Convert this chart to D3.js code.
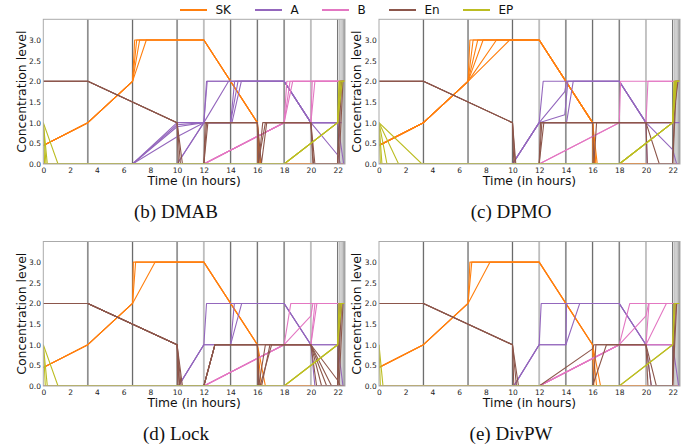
<!DOCTYPE html>
<html><head><meta charset="utf-8">
<script src="https://cdn.jsdelivr.net/npm/d3@7"></script>
<style>body{margin:0;background:#fff} svg{display:block}</style>
</head><body>
<svg id="chart" width="694" height="445"></svg>
<script>
// ---------------- DATA ----------------
const seriesNames = ["SK", "A", "B", "En", "EP"];
const panelTitles = ["(b) DMAB", "(c) DPMO", "(d) Lock", "(e) DivPW"];
const xTicks = [0, 2, 4, 6, 8, 10, 12, 14, 16, 18, 20, 22];
const yTicks = [0, 0.5, 1, 1.5, 2, 2.5, 3];
const xMax = 22.55;
const yMax = 3.5;
const eventTimes = [3.33, 6.67, 10, 12, 14, 16, 18, 20, 22, 22.17, 22.33, 22.48];
const eventLight = [false, false, false, true, false, false, false, true, false, true, true, false];

// (b) DMAB
const dmabSK = [
  [[0,0.45],[3.33,1],[6.67,2],[6.83,3],[12,3],[16,1],[16.05,0],[22.55,0]],
  [[0,0.45],[3.33,1],[6.67,2],[6.98,3],[12,3],[16,1],[16.15,0],[22.55,0]],
  [[0,0.45],[3.33,1],[6.67,2],[7.2,3],[12,3],[16,1],[16.25,0],[22.55,0]],
  [[0,0.45],[3.33,1],[6.67,2],[7.7,3],[12,3],[16,1],[16.1,0],[22.55,0]]
];
const dmabA = [
  [[0,0],[6.67,0],[10,1],[12,1],[12.2,2],[18,2],[20,1],[22.05,0.2],[22.2,0],[22.55,0]],
  [[0,0],[6.67,0],[10,0.9],[12,1],[12.25,2],[18,2],[20,1],[22,1],[22.35,2],[22.55,2]],
  [[0,0],[6.67,0],[10,0.66],[12,1],[14,1],[14.3,2],[18,2],[20,1],[22,1],[22.45,0]],
  [[0,0],[10,0],[12,1],[13.85,2],[18,2],[20,1],[22,1],[22.3,1]],
  [[0,0],[6.67,0],[10,0.95],[12,1],[14,1],[14.55,2],[18,2],[20,1],[22,1]],
  [[0,0],[10,0],[12,1],[14.1,1],[14.8,2],[18,2]]
];
const dmabB = [
  [[0,0],[12,0],[18,1],[18.2,2],[22.55,2]],
  [[0,0],[12,0],[18,1],[18.44,2],[22.55,2]],
  [[0,0],[12,0],[18,1],[18.64,2],[22.55,2]],
  [[0,0],[12,0],[18,1],[20,1],[20.1,2],[22.55,2]],
  [[0,0],[12,0],[18,1],[20,1],[20.3,2],[22.55,2]]
];
const dmabEn = [
  [[0,2],[3.33,2],[10,1],[10.1,0],[12,0],[12.1,1],[16,1],[16.05,0],[16.6,1],[20,1],[20.15,0],[22,0],[22.2,2],[22.55,2]],
  [[0,2],[3.33,2],[10,1],[10.25,0],[12,0],[12.3,1],[16,1],[16.3,0],[16.7,1],[20,1],[20.3,0],[22,0],[22.3,2],[22.55,2]],
  [[0,2],[3.33,2],[10,1],[10.4,0],[12,0],[12.2,1],[16,1],[16.1,0],[16.4,1],[20,1],[20.2,0],[22.1,0],[22.4,2],[22.55,2]]
];
const dmabEP = [
  [[0,1],[0.1,0],[18,0],[22,1],[22.15,2],[22.55,2]],
  [[0,1],[0.2,0],[18,0],[22,1],[22.25,2],[22.55,2]],
  [[0,1],[0.3,0],[18,0],[22,1],[22.1,2],[22.55,2]],
  [[0,1],[1.1,0],[18,0],[22,1],[22.35,2],[22.55,2]]
];

// (c) DPMO
const dpmoSK = [
  [[0,0.45],[3.33,1],[6.67,2],[6.81,3],[12,3],[16,1],[16.05,0],[22.55,0]],
  [[0,0.45],[3.33,1],[6.67,2],[7.05,3],[12,3],[16,1],[16.15,0],[22.55,0]],
  [[0,0.45],[3.33,1],[6.67,2],[7.4,3],[12,3],[16,1],[16.25,0],[22.55,0]],
  [[0,0.45],[3.33,1],[6.67,2],[7.8,3],[12,3],[16,1],[16.35,0],[22.55,0]],
  [[0,0.45],[3.33,1],[6.67,2],[8.8,3],[12,3],[16,1],[16.1,0],[22.55,0]],
  [[0,0.45],[3.33,1],[6.67,2],[9.8,3],[12,3],[16,1],[16.2,0],[22.55,0]]
];
const dpmoA = [
  [[0,0],[10,0],[12,1],[12.3,2],[18,2],[20,1],[22,1],[22.55,1]],
  [[0,0],[10,0],[12,1],[13.92,1.75],[14.05,2],[18,2],[20,1],[22,0.35],[22.3,0],[22.55,0]],
  [[0,0],[10,0],[12,1],[13.92,1.19],[14.15,2],[18,2],[20,1],[20.1,0],[22.55,0]],
  [[0,0],[10,0],[12,1],[14.05,1],[14.55,2],[18,2],[20,1],[22,1],[22.35,2],[22.55,2]]
];
const dpmoB = [
  [[0,0],[12,0],[18,1],[18.1,2],[22.55,2]],
  [[0,0],[12,0],[18,1],[20,1],[20.15,2],[22.55,2]]
];
const dpmoEn = [
  [[0,2],[3.33,2],[10,1],[10.1,0],[12,0],[12.1,1],[20,1],[20.1,0],[22,0],[22.2,2],[22.55,2]],
  [[0,2],[3.33,2],[10,1],[10.25,0],[12,0],[12.35,1],[20,1],[21,0],[22,0],[22.3,2],[22.55,2]],
  [[0,2],[3.33,2],[10,1],[10.2,0],[12,0],[12.2,1],[16,1],[16.1,0],[16.3,1],[20,1],[22,1],[22.4,2],[22.55,2]]
];
const dpmoEP = [
  [[0,1],[0.1,0],[18,0],[22,1],[22.15,2],[22.55,2]],
  [[0,1],[0.22,0],[18,0],[22,1],[22.25,2],[22.55,2]],
  [[0,1],[0.6,0],[18,0],[22,1],[22.1,2],[22.55,2]],
  [[0,1],[1.47,0],[18,0],[22,1],[22.3,2],[22.55,2]],
  [[0,1],[3.22,0],[18,0],[22,1],[22.2,2],[22.55,2]]
];

// (d) Lock
const lockSK = [
  [[0,0.45],[3.33,1],[6.67,2],[6.73,3],[12,3],[16,1],[16.1,0],[22.55,0]],
  [[0,0.45],[3.33,1],[6.67,2],[6.9,3],[12,3],[16,1],[16.3,0],[22.55,0]],
  [[0,0.45],[3.33,1],[6.67,2],[8.35,3],[12,3],[16,1],[16.6,0],[22.55,0]]
];
const lockA = [
  [[0,0],[10.1,0],[12,1],[12.2,2],[18,2],[20,1],[20.3,0],[22.55,0]],
  [[0,0],[10.1,0],[12,1],[14,1],[14.28,2],[18,2],[20,1],[22,1],[22.3,2],[22.55,2]],
  [[0,0],[10.1,0],[12,1],[14,1],[14.83,2],[18,2],[20,1],[22,1],[22.4,0],[22.55,0]]
];
const lockB = [
  [[0,0],[12,0],[18,1],[18.5,2],[22.55,2]],
  [[0,0],[12,0],[18,1],[20,1.7],[20.15,2],[22.55,2]],
  [[0,0],[12,0],[18,1],[20,1],[20.3,2],[22.55,2]],
  [[0,0],[12,0],[18,1],[20,1],[20.45,2],[22.55,2]]
];
const lockEn = [
  [[0,2],[3.33,2],[10,1],[10.05,0],[12,0],[12.83,1],[16,1],[16.05,0],[16.2,0],[17.07,1],[20,1],[20.43,0],[22,0],[22.2,2],[22.55,2]],
  [[0,2],[3.33,2],[10,1],[10.2,0],[12,0],[12.83,1],[16,1],[16.15,0],[16.32,0],[16.94,1],[20,1],[20.8,0],[22,0],[22.3,2],[22.55,2]],
  [[0,2],[3.33,2],[10,1],[10.4,0],[12,0],[12.83,1],[16,1],[16.1,0],[16.6,1],[20,1],[21.18,0],[22,0],[22.1,2],[22.55,2]],
  [[0,2],[3.33,2],[10,1],[10.3,0],[12,0],[12.83,1],[20,1],[21.55,0],[22.1,0],[22.4,2],[22.55,2]],
  [[0,2],[3.33,2],[10,1],[10.15,0],[12,0],[12.83,1],[20,1],[22,0.14],[22.2,0],[22.55,0]]
];
const lockEP = [
  [[0,1],[0.15,0],[18,0],[22,1],[22.2,2],[22.55,2]],
  [[0,1],[0.3,0],[18,0],[22,1],[22.1,2],[22.55,2]],
  [[0,1],[1.1,0],[18,0],[22,1],[22.3,2],[22.55,2]]
];

// (e) DivPW
const divSK = [
  [[0,0.45],[3.33,1],[6.67,2],[6.81,3],[12,3],[16,1],[16.1,0],[22.55,0]],
  [[0,0.45],[3.33,1],[6.67,2],[6.95,3],[12,3],[16,1],[16.3,0],[22.55,0]],
  [[0,0.45],[3.33,1],[6.67,2],[8.31,3],[12,3],[16,1],[16.6,0],[22.55,0]]
];
const divA = [
  [[0,0],[10.1,0],[12,1],[12.15,2],[18,2],[20,1],[20.4,0],[22.55,0]],
  [[0,0],[10.1,0],[12,1],[14,1],[14.05,2],[18,2],[20,1],[22,1],[22.3,2],[22.55,2]],
  [[0,0],[10.1,0],[12,1],[14,1],[15.04,2],[18,2],[20,1],[22,1],[22.45,0],[22.55,0]]
];
const divB = [
  [[0,0],[12,0],[18,1],[18.79,2],[22.55,2]],
  [[0,0],[12,0],[18,1],[20,1.7],[20.2,2],[22.55,2]],
  [[0,0],[12,0],[18,1],[20,1],[20.23,2],[22.55,2]],
  [[0,0],[12,0],[18,1],[20,1],[21.53,2],[22.55,2]],
  [[0,0],[12,0],[18,1],[22,1],[22.3,2],[22.55,2]]
];
const divEn = [
  [[0,2],[3.33,2],[10,1],[10.1,0],[12,0],[16,0.9],[16.1,1],[20,1],[20.15,0],[22,0],[22.2,2],[22.55,2]],
  [[0,2],[3.33,2],[10,1],[10.3,0],[12,0],[16,0],[17.04,1],[20,1],[20.4,0],[22,0],[22.3,2],[22.55,2]],
  [[0,2],[3.33,2],[10,1],[10.45,0],[12,0],[16.05,0],[16.25,1],[20,1],[20.78,0],[22,0],[22.1,2],[22.55,2]]
];
const divEP = [
  [[0,1],[0.1,0],[18,0],[22,1],[22.2,2],[22.55,2]],
  [[0,1],[0.3,0],[18,0],[22,1],[22.1,2],[22.55,2]]
];

const panelData = [
  [dmabSK, dmabA, dmabB, dmabEn, dmabEP],
  [dpmoSK, dpmoA, dpmoB, dpmoEn, dpmoEP],
  [lockSK, lockA, lockB, lockEn, lockEP],
  [divSK, divA, divB, divEn, divEP]
];

// ---------------- STYLE / LAYOUT ----------------
const colors = ["#ff7f0e", "#9467bd", "#e377c2", "#8c564b", "#bcbd22"];
const layout = [
  {L: 43.3, R: 345, T: 19.3, B: 164, cx: 176, capY: 218},
  {L: 379, R: 680, T: 19.3, B: 164, cx: 511, capY: 218},
  {L: 43.3, R: 345, T: 241.5, B: 386, cx: 176, capY: 440},
  {L: 379, R: 680, T: 241.5, B: 386, cx: 511, capY: 440}
];
const sans = "DejaVu Sans, sans-serif";

const svg = d3.select("#chart");

// legend
const legendX = [180, 255, 322, 389, 463];
const lg = svg.append("g");
seriesNames.forEach((n, i) => {
  lg.append("line").attr("x1", legendX[i]).attr("x2", legendX[i] + 27)
    .attr("y1", 10).attr("y2", 10).attr("stroke", colors[i]).attr("stroke-width", 2);
  lg.append("text").attr("x", legendX[i] + 35.5).attr("y", 14.3)
    .attr("font-family", sans).attr("font-size", 12).attr("fill", "#111").text(n);
});

panelData.forEach((series, p) => {
  const lay = layout[p];
  const x = d3.scaleLinear().domain([0, xMax]).range([lay.L, lay.R]);
  const y = d3.scaleLinear().domain([0, yMax]).range([lay.B, lay.T]);
  const g = svg.append("g");
  const clipId = "clip" + p;
  g.append("clipPath").attr("id", clipId).append("rect")
    .attr("x", lay.L).attr("y", lay.T).attr("width", lay.R - lay.L).attr("height", lay.B - lay.T);
  const inner = g.append("g").attr("clip-path", `url(#${clipId})`);

  // event lines
  eventTimes.forEach((t, i) => {
    inner.append("line").attr("x1", x(t)).attr("x2", x(t)).attr("y1", lay.T).attr("y2", lay.B)
      .attr("stroke", "#d8d8d8").attr("stroke-width", t > 21.9 ? 1.4 : 2);
    inner.append("line").attr("x1", x(t)).attr("x2", x(t)).attr("y1", lay.T).attr("y2", lay.B)
      .attr("stroke", eventLight[i] ? "#ababab" : "#5a5a5a").attr("stroke-width", 0.9);
  });

  const line = d3.line().x(d => x(d[0])).y(d => y(d[1]));
  series.forEach((traces, si) => {
    traces.forEach(tr => {
      inner.append("path").attr("d", line(tr)).attr("fill", "none")
        .attr("stroke", colors[si]).attr("stroke-width", 1.1).attr("stroke-linejoin", "round");
    });
  });

  // frame
  g.append("rect").attr("x", lay.L).attr("y", lay.T).attr("width", lay.R - lay.L).attr("height", lay.B - lay.T)
    .attr("fill", "none").attr("stroke", "#aaa").attr("stroke-width", 1);

  // axes
  const ya = g.append("g").attr("transform", `translate(${lay.L},0)`)
    .call(d3.axisLeft(y).tickValues(yTicks).tickFormat(d3.format(".1f")).tickSize(0).tickPadding(2.3));
  ya.select(".domain").remove();
  ya.selectAll("text").attr("font-family", sans).attr("font-size", 7.5).attr("fill", "#222");
  const xa = g.append("g").attr("transform", `translate(0,${lay.B})`)
    .call(d3.axisBottom(x).tickValues(xTicks).tickFormat(d3.format("d")).tickSize(0).tickPadding(3.2));
  xa.select(".domain").remove();
  xa.selectAll("text").attr("font-family", sans).attr("font-size", 7.5).attr("fill", "#222");

  // axis labels
  g.append("text").attr("x", (lay.L + lay.R) / 2).attr("y", lay.B + 20.5).attr("text-anchor", "middle")
    .attr("font-family", sans).attr("font-size", 12.3).attr("fill", "#111").text("Time (in hours)");
  g.append("text").attr("transform", `translate(${lay.L - 17.8},${(lay.T + lay.B) / 2}) rotate(-90)`)
    .attr("text-anchor", "middle").attr("font-family", sans).attr("font-size", 12.5).attr("fill", "#111")
    .text("Concentration level");

  // caption
  g.append("text").attr("x", lay.cx).attr("y", lay.capY).attr("text-anchor", "middle")
    .attr("font-family", "Liberation Serif, Times New Roman, serif").attr("font-size", 19).attr("fill", "#111")
    .text(panelTitles[p]);
});
</script>
</body></html>
